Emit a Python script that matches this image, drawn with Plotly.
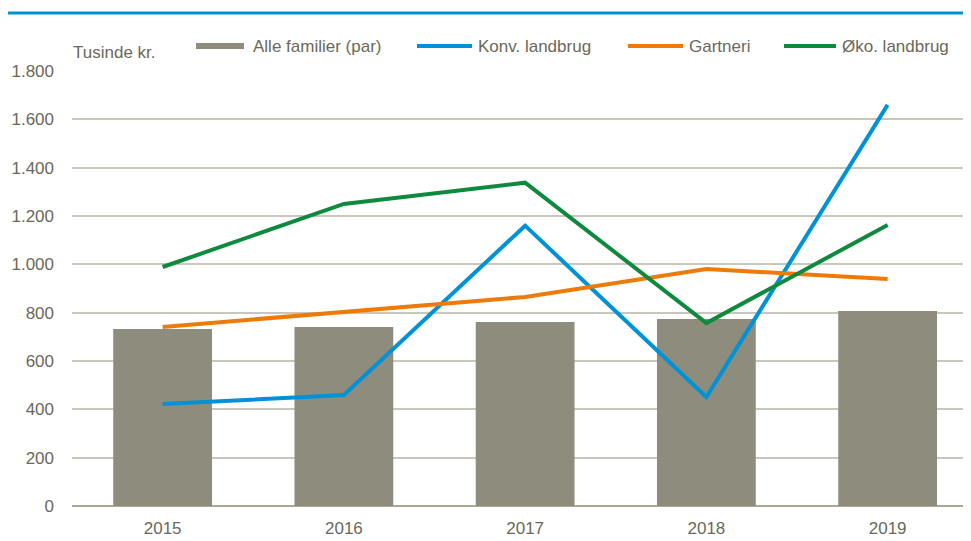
import plotly.graph_objects as go

years = ["2015", "2016", "2017", "2018", "2019"]
alle_familier = [732, 741, 761, 774, 807]
konv_landbrug = [422, 459, 1160, 451, 1660]
gartneri = [741, 803, 865, 981, 939]
oko_landbrug = [989, 1250, 1338, 757, 1163]
y_ticks = [0, 200, 400, 600, 800, 1000, 1200, 1400, 1600, 1800]
y_tick_labels = ["0", "200", "400", "600", "800", "1.000", "1.200", "1.400", "1.600", "1.800"]

FONT = "Liberation Sans, Arial, sans-serif"
TXT = "#6B685B"
BAR_C = "#8E8C7D"
BLUE = "#0092D6"
ORANGE = "#EE7A0A"
GREEN = "#0E8A3E"

# page offset (browser body margin 8px); plot area in page pixels
PL, PR, PT, PB = 72, 971, 71, 506


def px(x):
    return (x - PL) / (PR - PL)


def py(y):
    return (PB - y) / (PB - PT)


fig = go.Figure()
fig.add_trace(go.Bar(x=years, y=alle_familier, name="Alle familier (par)",
                     marker=dict(color=BAR_C, line=dict(width=0)), width=0.545))
fig.add_trace(go.Scatter(x=years, y=konv_landbrug, name="Konv. landbrug", mode="lines",
                         line=dict(color=BLUE, width=4)))
fig.add_trace(go.Scatter(x=years, y=gartneri, name="Gartneri", mode="lines",
                         line=dict(color=ORANGE, width=4)))
fig.add_trace(go.Scatter(x=years, y=oko_landbrug, name="Øko. landbrug", mode="lines",
                         line=dict(color=GREEN, width=4)))

# custom legend (symbol geometry like the reference)
legend_items = [
    ("rect", BAR_C, 196, 244, 251, "Alle familier (par)"),
    ("line", BLUE, 417, 472, 476, "Konv. landbrug"),
    ("line", ORANGE, 628, 683, 687, "Gartneri"),
    ("line", GREEN, 784, 836, 840, "Øko. landbrug"),
]
shapes = [dict(type="line", xref="paper", yref="paper", x0=px(0), x1=1.0,
               y0=py(13), y1=py(13), line=dict(color="#0090D4", width=3))]
annotations = [dict(text="Tusinde kr.", xref="paper", yref="paper", x=px(71), y=py(53),
                    xanchor="left", yanchor="middle", showarrow=False,
                    font=dict(family=FONT, size=17, color=TXT))]
leg_y = 46
for kind, col, x0, x1, tx, label in legend_items:
    if kind == "rect":
        shapes.append(dict(type="rect", xref="paper", yref="paper", x0=px(x0), x1=px(x1),
                           y0=py(leg_y + 3), y1=py(leg_y - 3), fillcolor=col,
                           line=dict(width=0)))
    else:
        shapes.append(dict(type="line", xref="paper", yref="paper", x0=px(x0), x1=px(x1),
                           y0=py(leg_y), y1=py(leg_y), line=dict(color=col, width=4)))
    annotations.append(dict(text=label, xref="paper", yref="paper", x=px(tx), y=py(leg_y + 1),
                            xanchor="left", yanchor="middle", showarrow=False,
                            font=dict(family=FONT, size=17, color=TXT)))

fig.update_layout(
    width=963, height=533,
    margin=dict(l=PL - 8, r=0, t=PT - 8, b=541 - PB, pad=0),
    paper_bgcolor="white", plot_bgcolor="white",
    font=dict(family=FONT, size=17, color=TXT),
    showlegend=False,
    bargap=0.455,
    xaxis=dict(type="category", range=[-0.5, 4.46], showgrid=False, showline=False,
               ticks="", tickfont=dict(size=17, color=TXT), zeroline=False,
               automargin=False, ticklabelstandoff=10),
    yaxis=dict(range=[0, 1800], tickvals=y_ticks, ticktext=y_tick_labels,
               showgrid=True, gridcolor="#C9C7BC", gridwidth=1.5,
               zeroline=True, zerolinecolor="#A9A796", zerolinewidth=1.5,
               showline=False, ticks="", ticklabelstandoff=17, automargin=False,
               tickfont=dict(size=17, color=TXT)),
    shapes=shapes,
    annotations=annotations,
)

fig.write_html("out.html")
